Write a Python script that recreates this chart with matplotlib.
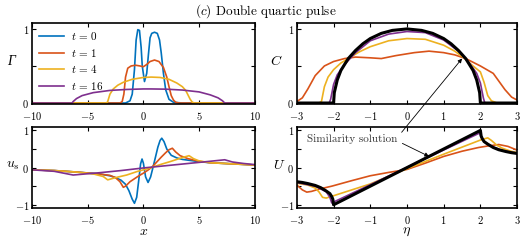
import matplotlib
matplotlib.use("Agg")
import matplotlib.pyplot as plt

plt.rcParams["font.family"] = "serif"
plt.rcParams["font.serif"] = ["cmr10"]
plt.rcParams["mathtext.fontset"] = "cm"
plt.rcParams["axes.formatter.use_mathtext"] = True
plt.rcParams["axes.unicode_minus"] = True

# colours (MATLAB defaults)
blue, red, yellow, purple = "#0072BD", "#D95319", "#EDB120", "#7E2F8E"

# ---- Gamma(x) at t = 0, 1, 4, 16 ----
x_g0 = [-10, -1.6, -1.2, -1.0, -0.8, -0.65, -0.5, -0.35, -0.2, -0.1, 0.1, 0.3, 0.45, 0.6, 0.75, 1.0,
        1.25, 1.45, 1.6, 1.8, 2.0, 2.3, 2.7, 3.5, 10]
g0 = [0, 0, 0.03, 0.12, 0.45, 0.85, 0.99, 0.98, 0.75, 0.5, 0.29, 0.4, 0.65, 0.88, 0.94, 0.955,
      0.94, 0.85, 0.68, 0.4, 0.18, 0.05, 0.01, 0, 0]
x_g1 = [-10, -2.1, -1.9, -1.75, -1.6, -1.4, -1.1, -0.7, -0.3, 0.0, 0.3, 0.6, 1.0, 1.4, 1.8, 2.1,
        2.3, 2.5, 2.7, 2.9, 3.2, 10]
g1 = [0, 0, 0.02, 0.12, 0.35, 0.47, 0.5, 0.51, 0.5, 0.49, 0.52, 0.56, 0.58, 0.56, 0.48, 0.35,
      0.22, 0.1, 0.04, 0.01, 0, 0]
x_g4 = [-10, -3.3, -3.2, -3.0, -2.7, -2.3, -1.8, -1.0, 0.0, 0.7, 1.5, 2.3, 3.0, 3.5, 3.8, 4.0,
        4.2, 4.4, 4.6, 10]
g4 = [0, 0, 0.02, 0.12, 0.19, 0.24, 0.28, 0.32, 0.345, 0.35, 0.345, 0.32, 0.27, 0.22, 0.17, 0.11,
      0.05, 0.01, 0, 0]
x_g16 = [-10, -6.4, -6.3, -6.0, -5.5, -4.5, -3, -1.5, 0, 0.7, 2, 3.5, 5, 6, 6.7, 7.1, 7.3, 10]
g16 = [0, 0, 0.02, 0.06, 0.1, 0.14, 0.17, 0.183, 0.19, 0.19, 0.187, 0.175, 0.15, 0.11, 0.07,
       0.03, 0, 0]

# ---- u_s(x) ----
x_u0 = [-10, -8, -6, -4, -3, -2.5, -2, -1.6, -1.3, -1.0, -0.8, -0.6, -0.4, -0.25, -0.12, 0.0,
        0.2, 0.42, 0.65, 0.9, 1.1, 1.3, 1.5, 1.65, 1.85, 2.1, 2.5, 3.0, 3.5, 4, 5, 6, 8, 10]
u0 = [-0.06, -0.08, -0.12, -0.17, -0.22, -0.27, -0.34, -0.45, -0.62, -0.85, -0.96, -0.8, -0.3,
      0.1, 0.23, 0.12, -0.25, -0.4, -0.25, 0.05, 0.3, 0.55, 0.73, 0.79, 0.7, 0.5, 0.33, 0.26,
      0.22, 0.2, 0.16, 0.13, 0.1, 0.07]
x_u1 = [-10, -8, -6, -4, -3, -2.5, -2.1, -1.8, -1.6, -1.2, -0.8, -0.4, 0, 0.4, 0.8, 1.2, 1.6,
        2.0, 2.3, 2.6, 2.9, 3.3, 4, 5, 6, 8, 10]
u1 = [-0.06, -0.08, -0.12, -0.17, -0.21, -0.27, -0.38, -0.53, -0.5, -0.38, -0.3, -0.22, -0.15,
      -0.07, 0.02, 0.15, 0.28, 0.4, 0.48, 0.52, 0.42, 0.32, 0.24, 0.17, 0.13, 0.1, 0.07]
x_u4 = [-10, -8, -6, -4.5, -3.6, -3.2, -2.5, -1.5, -0.5, 0.5, 1.5, 2.5, 3.5, 4.1, 4.5, 5, 6, 8, 10]
u4 = [-0.06, -0.08, -0.12, -0.17, -0.24, -0.33, -0.27, -0.2, -0.1, -0.02, 0.08, 0.17, 0.27,
      0.32, 0.24, 0.18, 0.13, 0.1, 0.07]
x_u16 = [-10, -8, -6.3, -4, -2, 0, 2, 4, 6, 7.3, 8, 9, 10]
u16 = [-0.06, -0.1, -0.2, -0.14, -0.08, -0.01, 0.05, 0.11, 0.17, 0.21, 0.15, 0.11, 0.08]

# ---- C(eta) ----
eta_c1 = [-3, -2.85, -2.7, -2.5, -2.25, -2.0, -1.7, -1.4, -1.0, -0.7, -0.3, 0.2, 0.6, 1.0, 1.3,
          1.6, 2.0, 2.35, 2.67, 2.85, 3.0]
c1 = [0.02, 0.07, 0.19, 0.37, 0.5, 0.56, 0.6, 0.62, 0.61, 0.6, 0.64, 0.68, 0.7, 0.68, 0.65,
      0.6, 0.5, 0.4, 0.18, 0.08, 0.04]
eta_c4 = [-3, -2.4, -2.33, -2.25, -2.15, -2.0, -1.8, -1.6, -1.3, -1.0, -0.5, 0, 0.5, 1.0, 1.3,
          1.55, 1.8, 2.0, 2.1, 2.2, 2.3, 2.45, 3]
c4 = [0, 0, 0.02, 0.22, 0.35, 0.45, 0.54, 0.6, 0.69, 0.76, 0.84, 0.87, 0.86, 0.78, 0.7, 0.61,
      0.5, 0.42, 0.28, 0.1, 0.03, 0, 0]
eta_c16 = [-3, -2.12, -2.08, -2.0, -1.9, -1.7, -1.4, -1.0, -0.5, 0, 0.5, 1.0, 1.4, 1.7, 1.9,
           2.0, 2.08, 2.12, 3]
c16 = [0, 0, 0.05, 0.25, 0.38, 0.52, 0.68, 0.84, 0.93, 0.965, 0.95, 0.85, 0.7, 0.54, 0.4,
       0.27, 0.07, 0, 0]
eta_cs = [-3, -2.0, -1.98, -1.9, -1.8, -1.6, -1.4, -1.2, -1.0, -0.7, -0.4, 0, 0.4, 0.7, 1.0,
          1.2, 1.4, 1.6, 1.8, 1.9, 1.98, 2.0, 3]
cs = [0, 0, 0.14, 0.31, 0.44, 0.6, 0.71, 0.8, 0.87, 0.94, 0.98, 1.0, 0.98, 0.94, 0.87, 0.8,
      0.71, 0.6, 0.44, 0.31, 0.14, 0, 0]

# ---- U(eta) ----
eta_U1 = [-3, -2.85, -2.73, -2.6, -2.4, -2.05, -1.5, -1.0, -0.5, 0, 0.5, 1.0, 1.5, 1.95, 2.2,
          2.5, 2.75, 3.0]
U1 = [-0.47, -0.6, -0.66, -0.64, -0.58, -0.5, -0.35, -0.22, -0.13, -0.05, 0.12, 0.3, 0.44,
      0.54, 0.58, 0.62, 0.57, 0.47]
eta_U4 = [-3, -2.7, -2.5, -2.4, -2.3, -2.2, -1, 0, 1, 2.0, 2.2, 2.3, 2.45, 2.6, 2.8, 3.0]
U4 = [-0.42, -0.47, -0.55, -0.65, -0.8, -0.82, -0.44, -0.03, 0.36, 0.74, 0.8, 0.73, 0.6, 0.52,
      0.45, 0.4]
eta_U16 = [-3, -2.5, -2.2, -2.1, -2.05, 1.98, 2.02, 2.1, 2.3, 2.6, 3.0]
U16 = [-0.4, -0.5, -0.65, -0.8, -0.95, 0.93, 0.82, 0.7, 0.57, 0.46, 0.38]
eta_Us = [-3, -2.85, -2.7, -2.5, -2.35, -2.2, -2.1, -2.05, -2.02, -2.0, 2.0, 2.02, 2.05, 2.1,
          2.2, 2.35, 2.5, 2.7, 2.85, 3.0]
Us = [-0.38, -0.4, -0.43, -0.48, -0.54, -0.63, -0.7, -0.78, -0.85, -1.0, 1.0, 0.85, 0.78, 0.7,
      0.63, 0.54, 0.48, 0.43, 0.4, 0.38]

labels = [r"$t\,=\,0$", r"$t\,=\,1$", r"$t\,=\,4$", r"$t\,=\,16$"]

fig = plt.figure(figsize=(5.32, 2.42), dpi=100)
axG = fig.add_axes([0.060, 0.570, 0.419, 0.335])
axC = fig.add_axes([0.558, 0.570, 0.414, 0.335])
axu = fig.add_axes([0.060, 0.140, 0.419, 0.335])
axU = fig.add_axes([0.558, 0.140, 0.414, 0.335])

lw = 1.2
axG.plot(x_g0, g0, color=blue, lw=lw, label=labels[0])
axG.plot(x_g1, g1, color=red, lw=lw, label=labels[1])
axG.plot(x_g4, g4, color=yellow, lw=lw, label=labels[2])
axG.plot(x_g16, g16, color=purple, lw=lw, label=labels[3])

axu.plot(x_u0, u0, color=blue, lw=lw)
axu.plot(x_u1, u1, color=red, lw=lw)
axu.plot(x_u4, u4, color=yellow, lw=lw)
axu.plot(x_u16, u16, color=purple, lw=lw)

axC.plot(eta_c1, c1, color=red, lw=lw)
axC.plot(eta_c4, c4, color=yellow, lw=lw)
axC.plot(eta_c16, c16, color=purple, lw=lw)
axC.plot(eta_cs, cs, color="k", lw=2.2)

axU.plot(eta_U1, U1, color=red, lw=lw)
axU.plot(eta_U4, U4, color=yellow, lw=lw)
axU.plot(eta_U16, U16, color=purple, lw=lw)
axU.plot(eta_Us, Us, color="k", lw=2.2)

for ax in (axG, axu):
    ax.set_xlim(-10, 10)
    ax.set_xticks([-10, -5, 0, 5, 10])
for ax in (axC, axU):
    ax.set_xlim(-3, 3)
    ax.set_xticks([-3, -2, -1, 0, 1, 2, 3])
for ax in (axG, axC):
    ax.set_ylim(-0.014, 1.08)
    ax.set_yticks([0, 0.5, 1])
    ax.set_yticklabels([r"$0$", "", r"$1$"])
for ax in (axu, axU):
    ax.set_ylim(-1.09, 1.09)
    ax.set_yticks([-1, -0.5, 0, 0.5, 1])
    ax.set_yticklabels([r"$-1$", "", r"$0$", "", r"$1$"])

for ax in (axG, axC, axu, axU):
    ax.tick_params(direction="in", top=True, right=True, length=3, width=0.8,
                   labelsize=7.5, pad=2)
    ax.tick_params(axis="x", pad=4)
    for s in ax.spines.values():
        s.set_linewidth(1.2)

axG.set_ylabel("\u0393", rotation=0, fontsize=10, family="Liberation Serif", style="italic")
axC.set_ylabel(r"$C$", rotation=0, fontsize=10)
axu.set_ylabel(r"$u_s$", rotation=0, fontsize=10)
axU.set_ylabel(r"$U$", rotation=0, fontsize=10)
axG.yaxis.set_label_coords(-0.095, 0.45)
axC.yaxis.set_label_coords(-0.095, 0.45)
axu.yaxis.set_label_coords(-0.085, 0.45)
axU.yaxis.set_label_coords(-0.08, 0.45)
axu.set_xlabel(r"$x$", fontsize=10, labelpad=0)
axU.set_xlabel(r"$\eta$", fontsize=10, labelpad=0)

axG.legend(loc="upper left", frameon=False, fontsize=8, handlelength=2.2,
           labelspacing=0.4, borderaxespad=0.35, handletextpad=0.7, borderpad=0.3)

fig.text(0.5, 0.955, r"$(c)$ Double quartic pulse", ha="center", va="center", fontsize=9.5)

# similarity solution annotation, arrows into both right panels
axU.annotate("Similarity solution", xy=(1.5, 0.6), xycoords=axC.transData,
             xytext=(-1.5, 0.76), textcoords="data", ha="center", va="center",
             fontsize=8, color="#333333", annotation_clip=False,
             arrowprops=dict(arrowstyle="-|>", color="k", lw=0.6, mutation_scale=6,
                             relpos=(1.0, 0.65), shrinkA=2, shrinkB=0))
axU.annotate("Similarity solution", xy=(0.6, 0.3), xycoords="data",
             xytext=(-1.5, 0.76), textcoords="data", ha="center", va="center",
             fontsize=8, color="none", annotation_clip=False,
             arrowprops=dict(arrowstyle="-|>", color="k", lw=0.6, mutation_scale=6,
                             relpos=(1.0, 0.35), shrinkA=2, shrinkB=0))

fig.savefig("out.png", dpi=100)
